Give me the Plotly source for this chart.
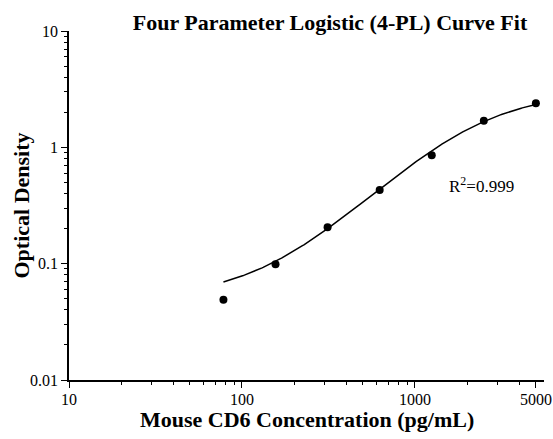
import numpy as np
import plotly.graph_objects as go

# Data (standard curve)
conc = [78.125, 156.25, 312.5, 625, 1250, 2500, 5000]
od = [0.049, 0.099, 0.206, 0.43, 0.857, 1.69, 2.39]

# 4-PL fit parameters (estimated from the fitted curve)
A_min = 0.05
D_max = 3.0
C_ec50 = 2200.0
B_slope = 1.5
r2_text = "R<sup>2</sup>=0.999"

x_ticks = [10, 100, 1000, 5000]
x_ticklabels = ["10", "100", "1000", "5000"]
y_ticks = [0.01, 0.1, 1, 10]
y_ticklabels = ["0.01", "0.1", "1", "10"]

xfit = np.logspace(np.log10(min(conc)), np.log10(max(conc)), 300)
yfit = D_max + (A_min - D_max) / (1 + (xfit / C_ec50) ** B_slope)

FF = "Liberation Serif"

fig = go.Figure()
fig.add_trace(go.Scatter(x=xfit, y=yfit, mode="lines",
                         line=dict(color="black", width=1.5), showlegend=False))
fig.add_trace(go.Scatter(x=conc, y=od, mode="markers",
                         marker=dict(color="black", size=8), showlegend=False))

minor_x = [m * d for d in (10, 100) for m in range(2, 10)] + [2000, 3000, 4000]
minor_y = [m * d for d in (0.01, 0.1, 1) for m in range(2, 10)]

fig.update_layout(
    width=553, height=439,
    margin=dict(l=69, r=9, t=31, b=59, autoexpand=False),
    plot_bgcolor="white", paper_bgcolor="white",
    font=dict(family=FF, color="black", size=16),
    title=dict(text="<b>Four Parameter Logistic (4-PL) Curve Fit</b>",
               x=330/553, xanchor="center", y=1-22/439, yanchor="middle",
               font=dict(size=22, family=FF, color="black")),
    xaxis=dict(type="log", range=[1, np.log10(5570)], automargin=False,
               tickvals=x_ticks, ticktext=x_ticklabels,
               ticks="outside", ticklen=6, tickwidth=1.2, tickcolor="black",
               ticklabelstandoff=-2,
               showline=True, linecolor="black", linewidth=1.5,
               showgrid=False, zeroline=False,
               minor=dict(tickvals=minor_x, ticks="outside", ticklen=3,
                          tickwidth=1, tickcolor="black", showgrid=False),
               tickfont=dict(size=16, family=FF, color="black")),
    yaxis=dict(type="log", range=[-2, 1], automargin=False,
               tickvals=y_ticks, ticktext=y_ticklabels,
               ticks="outside", ticklen=6, tickwidth=1.2, tickcolor="black",
               showline=True, linecolor="black", linewidth=1.5,
               showgrid=False, zeroline=False,
               minor=dict(tickvals=minor_y, ticks="outside", ticklen=3,
                          tickwidth=1, tickcolor="black", showgrid=False),
               tickfont=dict(size=16, family=FF, color="black")),
    annotations=[
        dict(text="<b>Mouse CD6 Concentration (pg/mL)</b>", xref="paper", yref="paper",
             x=0.5, y=0, yshift=-39, xanchor="center", yanchor="middle",
             showarrow=False, font=dict(size=22, family=FF, color="black")),
        dict(text="<b>Optical Density</b>", xref="paper", yref="paper",
             x=0, xshift=-48, y=0.5, xanchor="center", yanchor="middle",
             textangle=-90, showarrow=False, font=dict(size=22, family=FF, color="black")),
        dict(text=r2_text, xref="x", yref="y", x=np.log10(1531), y=np.log10(0.475),
             xanchor="left", yanchor="middle", showarrow=False,
             font=dict(size=17, family=FF, color="black")),
    ],
)

fig.write_html("out.html", config={"displayModeBar": False},
               post_script="document.body.style.margin='0';")
